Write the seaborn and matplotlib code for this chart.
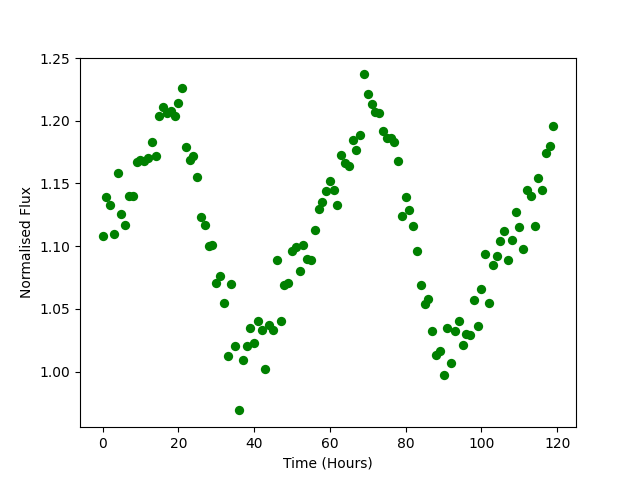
import matplotlib
matplotlib.use('Agg')
import matplotlib.pyplot as plt
import seaborn as sns
import numpy as np

# Time axis in hours (one reading per hour)
hours = np.arange(120)

# Normalised flux
flux = [
    1.108, 1.139, 1.133, 1.110, 1.158, 1.126, 1.117, 1.140, 1.140, 1.167,
    1.169, 1.168, 1.170, 1.183, 1.172, 1.204, 1.211, 1.206, 1.208, 1.204,
    1.214, 1.226, 1.179, 1.169, 1.172, 1.155, 1.123, 1.117, 1.100, 1.101,
    1.071, 1.076, 1.055, 1.012, 1.070, 1.020, 0.969, 1.009, 1.020, 1.035,
    1.023, 1.040, 1.033, 1.002, 1.037, 1.033, 1.089, 1.040, 1.069, 1.071,
    1.096, 1.099, 1.080, 1.101, 1.090, 1.089, 1.113, 1.130, 1.135, 1.144,
    1.152, 1.145, 1.133, 1.173, 1.166, 1.164, 1.185, 1.177, 1.189, 1.237,
    1.221, 1.213, 1.207, 1.206, 1.192, 1.186, 1.186, 1.183, 1.168, 1.124,
    1.139, 1.129, 1.116, 1.096, 1.069, 1.054, 1.058, 1.032, 1.013, 1.016,
    0.997, 1.035, 1.007, 1.032, 1.040, 1.021, 1.030, 1.029, 1.057, 1.036,
    1.066, 1.094, 1.055, 1.085, 1.092, 1.104, 1.112, 1.089, 1.105, 1.127,
    1.115, 1.098, 1.145, 1.140, 1.116, 1.154, 1.145, 1.174, 1.180, 1.196,
]

fig, ax = plt.subplots(figsize=(6.4, 4.8), dpi=100)

sns.scatterplot(x=hours, y=flux, color='green', s=45, linewidth=0, ax=ax)

ax.set_xlabel('Time (Hours)')
ax.set_ylabel('Normalised Flux')

fig.savefig('out.png', dpi=100)
